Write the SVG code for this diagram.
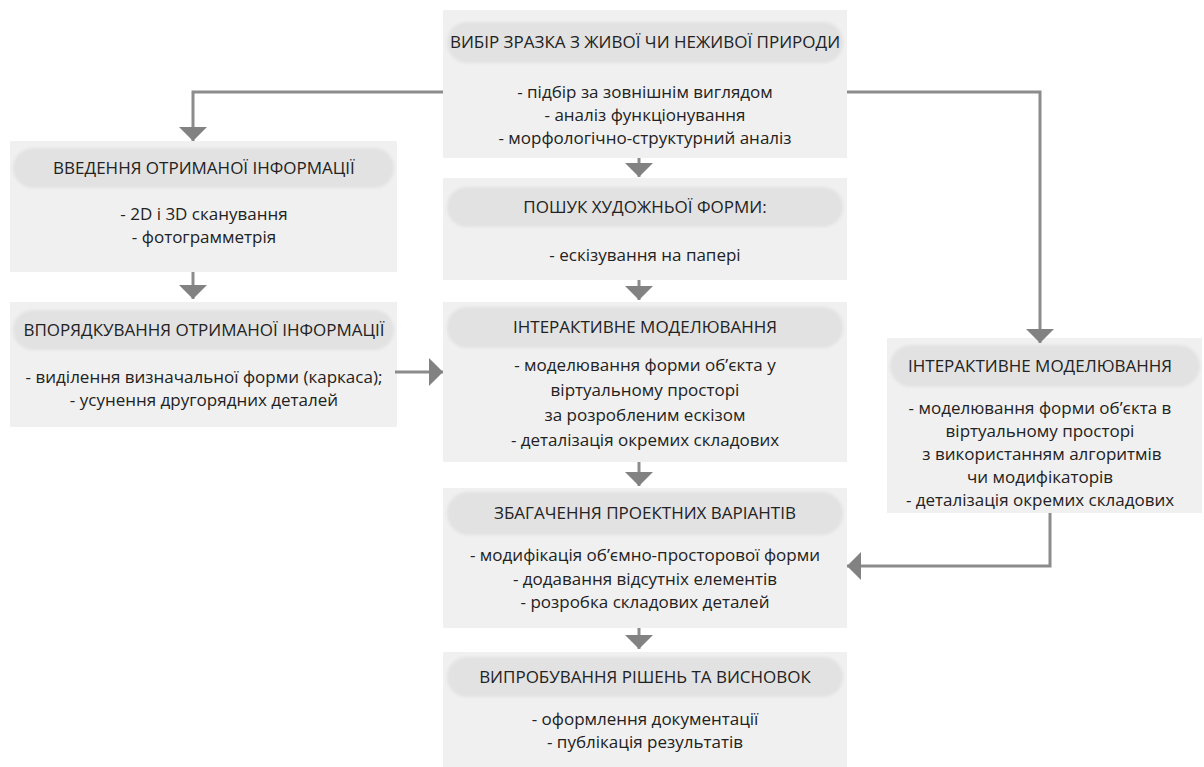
<svg xmlns="http://www.w3.org/2000/svg" width="1204" height="767" viewBox="0 0 1204 767">
<defs>
<style>
.box{fill:#f0f0f0}
.pill{fill:#e2e2e2;filter:url(#soft)}
.t{font-family:"Open Sans","Noto Sans","DejaVu Sans",sans-serif;font-size:17px;fill:#222;text-anchor:middle}
.c{fill:none;stroke:#8c8c8c;stroke-width:3}
</style>
<filter id="soft" x="-5%" y="-30%" width="110%" height="160%"><feGaussianBlur stdDeviation="1.5"/></filter>
<marker id="arr" markerUnits="userSpaceOnUse" viewBox="0 0 14 28" refX="14" refY="14" markerWidth="14" markerHeight="28" orient="auto"><path d="M0,0 L14,14 L0,28 z" fill="#828282"/></marker>
</defs>
<rect width="1204" height="767" fill="#fff"/>

<g id="n1">
<rect class="box" x="443" y="10" width="404" height="148"/>
<rect class="pill" x="447" y="22" width="396" height="41" rx="20"/>
<text class="t" x="645" y="48">ВИБІР ЗРАЗКА З ЖИВОЇ ЧИ НЕЖИВОЇ ПРИРОДИ</text>
<text class="t" x="645" y="98">- підбір за зовнішнім виглядом</text>
<text class="t" x="645" y="121">- аналіз функціонування</text>
<text class="t" x="645" y="144">- морфологічно-структурний аналіз</text>
</g>

<g id="n2">
<rect class="box" x="443" y="178" width="404" height="102"/>
<rect class="pill" x="447" y="187" width="396" height="40" rx="20"/>
<text class="t" x="645" y="213">ПОШУК ХУДОЖНЬОЇ ФОРМИ:</text>
<text class="t" x="645" y="261">- ескізування на папері</text>
</g>

<g id="n3">
<rect class="box" x="443" y="302" width="404" height="160"/>
<rect class="pill" x="447" y="307" width="396" height="41" rx="20"/>
<text class="t" x="645" y="333">ІНТЕРАКТИВНЕ МОДЕЛЮВАННЯ</text>
<text class="t" x="645" y="371">- моделювання форми об’єкта у</text>
<text class="t" x="645" y="396">віртуальному просторі</text>
<text class="t" x="645" y="421">за розробленим ескізом</text>
<text class="t" x="645" y="446">- деталізація окремих складових</text>
</g>

<g id="n4">
<rect class="box" x="443" y="488" width="404" height="140"/>
<rect class="pill" x="447" y="492" width="396" height="43" rx="21"/>
<text class="t" x="645" y="519">ЗБАГАЧЕННЯ ПРОЕКТНИХ ВАРІАНТІВ</text>
<text class="t" x="645" y="561">- модифікація об’ємно-просторової форми</text>
<text class="t" x="645" y="585">- додавання відсутніх елементів</text>
<text class="t" x="645" y="608">- розробка складових деталей</text>
</g>

<g id="n5">
<rect class="box" x="443" y="652" width="404" height="115"/>
<rect class="pill" x="447" y="657" width="396" height="40" rx="20"/>
<text class="t" x="645" y="683">ВИПРОБУВАННЯ РІШЕНЬ ТА ВИСНОВОК</text>
<text class="t" x="645" y="725">- оформлення документації</text>
<text class="t" x="645" y="748">- публікація результатів</text>
</g>

<g id="n6">
<rect class="box" x="10" y="141" width="387" height="131"/>
<rect class="pill" x="13" y="148" width="381" height="40" rx="20"/>
<text class="t" x="204" y="174">ВВЕДЕННЯ ОТРИМАНОЇ ІНФОРМАЦІЇ</text>
<text class="t" x="204" y="220">- 2D і 3D сканування</text>
<text class="t" x="204" y="243">- фотограмметрія</text>
</g>

<g id="n7">
<rect class="box" x="10" y="302" width="387" height="125"/>
<rect class="pill" x="13" y="310" width="381" height="40" rx="20"/>
<text class="t" x="204" y="336">ВПОРЯДКУВАННЯ ОТРИМАНОЇ ІНФОРМАЦІЇ</text>
<text class="t" x="204" y="383">- виділення визначальної форми (каркаса);</text>
<text class="t" x="204" y="406">- усунення другорядних деталей</text>
</g>

<g id="n8">
<rect class="box" x="887" y="338" width="315" height="175"/>
<rect class="pill" x="890" y="345" width="310" height="42" rx="21"/>
<text class="t" x="1040" y="372">ІНТЕРАКТИВНЕ МОДЕЛЮВАННЯ</text>
<text class="t" x="1040" y="414">- моделювання форми об’єкта в</text>
<text class="t" x="1040" y="437">віртуальному просторі</text>
<text class="t" x="1042" y="460">з використанням алгоритмів</text>
<text class="t" x="1040" y="483">чи модифікаторів</text>
<text class="t" x="1040" y="506">- деталізація окремих складових</text>
</g>

<g id="connectors">
<path class="c" d="M443,92 H193 V141" marker-end="url(#arr)"/>
<path class="c" d="M847,92 H1040 V343" marker-end="url(#arr)"/>
<path class="c" d="M639,158 V177" marker-end="url(#arr)"/>
<path class="c" d="M639,280 V300" marker-end="url(#arr)"/>
<path class="c" d="M639,462 V486" marker-end="url(#arr)"/>
<path class="c" d="M639,628 V649" marker-end="url(#arr)"/>
<path class="c" d="M193,272 V299" marker-end="url(#arr)"/>
<path class="c" d="M395,372 H443" marker-end="url(#arr)"/>
<path class="c" d="M1050,513 V566 H847" marker-end="url(#arr)"/>
</g>
</svg>
